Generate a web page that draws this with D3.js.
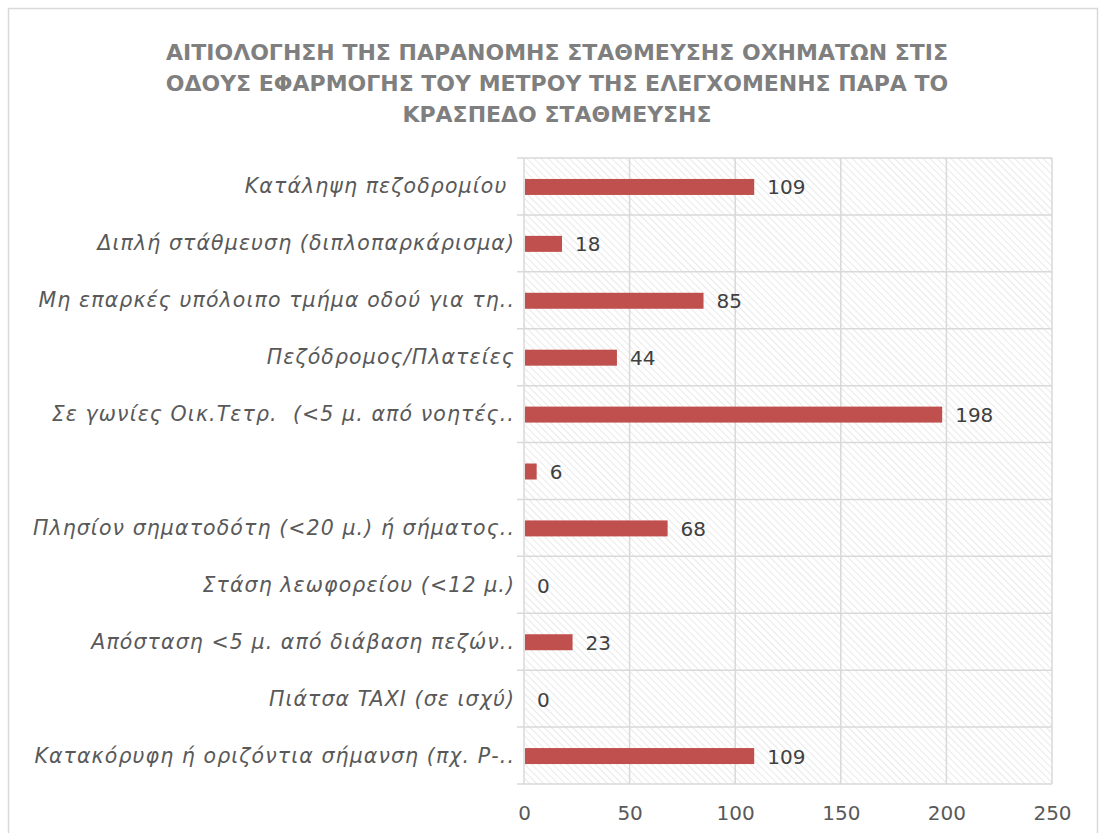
<!DOCTYPE html>
<html>
<head>
<meta charset="utf-8">
<script src="https://cdn.jsdelivr.net/npm/d3@7"></script>
<style>
  body { margin: 0; background: #fff; }
  svg { display: block; }
  text { font-family: "DejaVu Sans", sans-serif; }
</style>
</head>
<body>
<script>
// categories, top to bottom as shown
const categories = [
  "Κατάληψη πεζοδρομίου ",
  "Διπλή στάθμευση (διπλοπαρκάρισμα)",
  "Μη επαρκές υπόλοιπο τμήμα οδού για τη..",
  "Πεζόδρομος/Πλατείες",
  "Σε γωνίες Οικ.Τετρ.  (<5 μ. από νοητές..",
  "",
  "Πλησίον σηματοδότη (<20 μ.) ή σήματος..",
  "Στάση λεωφορείου (<12 μ.)",
  "Απόσταση <5 μ. από διάβαση πεζών..",
  "Πιάτσα TAXI (σε ισχύ)",
  "Κατακόρυφη ή οριζόντια σήμανση (πχ. Ρ-.."
];
const values = [109, 18, 85, 44, 198, 6, 68, 0, 23, 0, 109];
const xTicks = [0, 50, 100, 150, 200, 250];
const titleLines = [
  "ΑΙΤΙΟΛΟΓΗΣΗ ΤΗΣ ΠΑΡΑΝΟΜΗΣ ΣΤΑΘΜΕΥΣΗΣ ΟΧΗΜΑΤΩΝ ΣΤΙΣ",
  "ΟΔΟΥΣ ΕΦΑΡΜΟΓΗΣ ΤΟΥ ΜΕΤΡΟΥ ΤΗΣ ΕΛΕΓΧΟΜΕΝΗΣ ΠΑΡΑ ΤΟ",
  "ΚΡΑΣΠΕΔΟ ΣΤΑΘΜΕΥΣΗΣ"
];

const width = 1101, height = 833;
const plot = { left: 524, right: 1052, top: 158, bottom: 784 };

const svg = d3.select("body").append("svg")
    .attr("width", width)
    .attr("height", height);

// hatch fill for plot area
const pat = svg.append("defs").append("pattern")
    .attr("id", "hatch")
    .attr("patternUnits", "userSpaceOnUse")
    .attr("width", 5)
    .attr("height", 5)
    .attr("patternTransform", "rotate(-45)");
pat.append("rect").attr("width", 5).attr("height", 5).attr("fill", "#fff");
pat.append("line")
    .attr("x1", 0).attr("y1", 0).attr("x2", 0).attr("y2", 5)
    .attr("stroke", "#e0e0e0")
    .attr("stroke-width", 1.4);

// outer chart border
svg.append("rect")
    .attr("x", 8.5).attr("y", 8.5)
    .attr("width", 1089).attr("height", 840)
    .attr("fill", "#fff")
    .attr("stroke", "#d9d9d9")
    .attr("stroke-width", 1.5);

svg.append("g")
    .selectAll("text")
    .data(titleLines)
    .join("text")
    .attr("x", 557)
    .attr("y", (d, i) => 60 + i * 31)
    .attr("text-anchor", "middle")
    .attr("fill", "#7f7f7f")
    .attr("font-size", 22)
    .attr("font-weight", "bold")
    .text(d => d);

const x = d3.scaleLinear()
    .domain([0, 250])
    .range([plot.left, plot.right]);

const y = d3.scaleBand()
    .domain(d3.range(categories.length))
    .range([plot.top, plot.bottom])
    .paddingInner(0)
    .paddingOuter(0);

svg.append("rect")
    .attr("x", plot.left).attr("y", plot.top)
    .attr("width", plot.right - plot.left)
    .attr("height", plot.bottom - plot.top)
    .attr("fill", "url(#hatch)");

// vertical gridlines
svg.append("g")
    .selectAll("line")
    .data(xTicks)
    .join("line")
    .attr("x1", d => x(d)).attr("x2", d => x(d))
    .attr("y1", plot.top).attr("y2", plot.bottom)
    .attr("stroke", "#d9d9d9")
    .attr("stroke-width", 1.5);

// horizontal category separators, with tick stubs on the left
const seps = d3.range(categories.length + 1).map(i => plot.top + i * y.step());
svg.append("g")
    .selectAll("line")
    .data(seps)
    .join("line")
    .attr("x1", plot.left - 7).attr("x2", plot.right)
    .attr("y1", d => d).attr("y2", d => d)
    .attr("stroke", "#d9d9d9")
    .attr("stroke-width", 1.5);

const barH = 16;
svg.append("g")
    .selectAll("rect")
    .data(values)
    .join("rect")
    .attr("x", x(0) + 1)
    .attr("y", (d, i) => y(i) + y.bandwidth() / 2 - barH / 2 + 0.5)
    .attr("width", d => Math.max(0, x(d) - x(0) - 1))
    .attr("height", barH)
    .attr("fill", "#c0504d");

svg.append("g")
    .selectAll("text")
    .data(values)
    .join("text")
    .attr("x", d => x(d) + 13)
    .attr("y", (d, i) => y(i) + y.bandwidth() / 2 + 8)
    .attr("fill", "#404040")
    .attr("font-size", 20)
    .text(d => d);

// category labels
svg.append("g")
    .selectAll("text")
    .data(categories)
    .join("text")
    .attr("x", 515)
    .attr("y", (d, i) => y(i) + y.bandwidth() / 2 + 7)
    .attr("text-anchor", "end")
    .attr("fill", "#595959")
    .attr("font-size", 20.5)
    .attr("letter-spacing", 1.1)
    .attr("font-style", "italic")
    .style("white-space", "pre")
    .text(d => d);

// x axis labels
const xAxis = d3.axisBottom(x)
    .tickValues(xTicks)
    .tickSize(0)
    .tickPadding(22);
const gx = svg.append("g")
    .attr("transform", `translate(0,${plot.bottom})`)
    .call(xAxis);
gx.select(".domain").remove();
gx.selectAll("text")
    .attr("font-family", "DejaVu Sans, sans-serif")
    .attr("font-size", 20)
    .attr("fill", "#595959");
</script>
</body>
</html>
